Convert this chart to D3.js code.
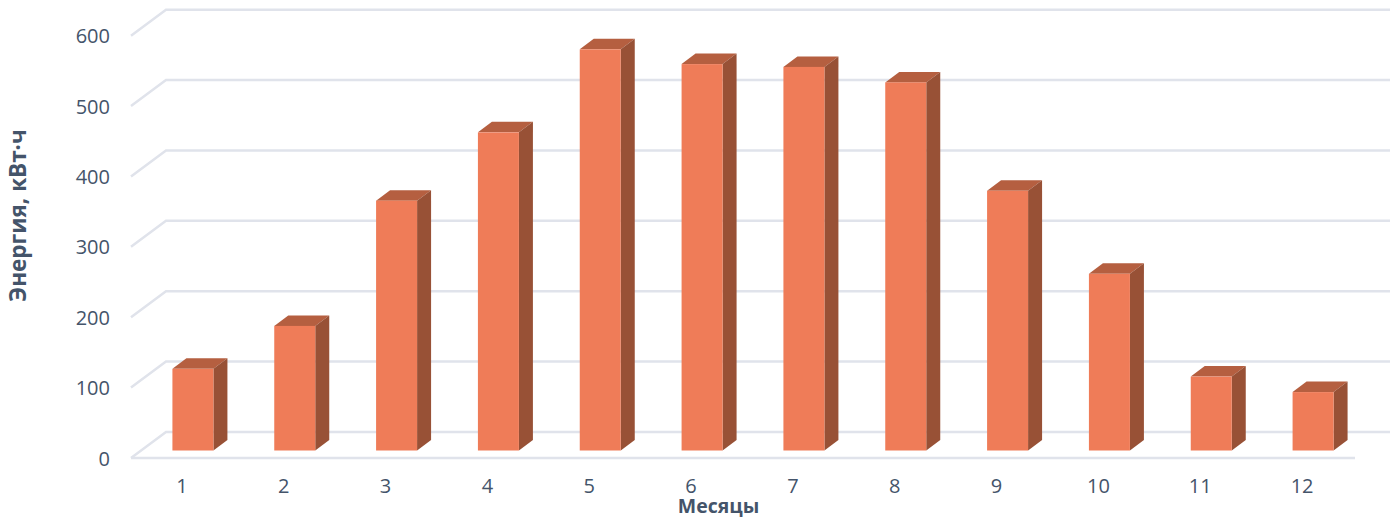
<html>
<head>
	<meta charset="utf-8">
	<script src="https://cdn.jsdelivr.net/npm/d3@7/dist/d3.min.js"></script>
	<style>
		html, body { margin: 0; padding: 0; background: #fff; }
		svg { display: block; }
		text { font-family: "Open Sans", sans-serif; fill: #44546a; }
	</style>
</head>
<body>
<div id="chart"></div>
<script>
	var months = ["1", "2", "3", "4", "5", "6", "7", "8", "9", "10", "11", "12"];
	var energy = [116, 177, 355, 452, 570, 549, 545, 523, 369, 251, 105, 83];
	var yTicks = [0, 100, 200, 300, 400, 500, 600];

	var width = 1392, height = 518;
	var depthX = 35, depthY = 26;      // floor depth of the 3d box
	var barDepthX = 14, barDepthY = 10.5;

	var svg = d3.select("#chart").append("svg")
		.attr("width", width)
		.attr("height", height);

	var x = d3.scaleBand().domain(months).range([131, 1353]);
	var y = d3.scaleLinear().domain([0, 600]).range([458, 35.7]);
	var barWidth = 41;
	var barLeft = function(d) { return x(d) + x.bandwidth() / 2 - barWidth / 2 + 11; };
	var barBase = y(0) - 7.5;

	// walls and floor
	var grid = svg.append("g").attr("fill", "none").attr("stroke", "#e0e3eb").attr("stroke-width", 2.5);
	yTicks.forEach(function(t) {
		grid.append("polyline").attr("points", [
			[131, y(t)],
			[131 + depthX, y(t) - depthY],
			[1355 + depthX, y(t) - depthY]
		].join(" "));
	});
	grid.append("line")
		.attr("x1", 131).attr("x2", 1355)
		.attr("y1", y(0)).attr("y2", y(0));

	// bars
	var bars = svg.append("g").selectAll("g")
		.data(months)
		.enter().append("g");

	var barTop = function(i) { return barBase - (y(0) - y(energy[i])); };

	bars.append("polygon")
		.attr("fill", "#b55f40")
		.attr("points", function(d, i) {
			var l = barLeft(d), t = barTop(i);
			return [[l, t], [l + barDepthX, t - barDepthY], [l + barWidth + barDepthX, t - barDepthY], [l + barWidth, t]].join(" ");
		});
	bars.append("polygon")
		.attr("fill", "#985136")
		.attr("points", function(d, i) {
			var r = barLeft(d) + barWidth, t = barTop(i);
			return [[r, t], [r + barDepthX, t - barDepthY], [r + barDepthX, barBase - barDepthY], [r, barBase]].join(" ");
		});
	bars.append("rect")
		.attr("fill", "#ef7c58")
		.attr("x", barLeft)
		.attr("y", function(d, i) { return barTop(i); })
		.attr("width", barWidth)
		.attr("height", function(d, i) { return barBase - barTop(i); });

	// axes
	var xAxis = svg.append("g")
		.attr("transform", "translate(0,475)")
		.call(d3.axisBottom(x).tickSize(0).tickPadding(0));
	xAxis.select(".domain").remove();
	xAxis.selectAll("text").attr("font-size", 20).attr("dy", "0.9em");

	var yAxis = svg.append("g")
		.attr("transform", "translate(110,0)")
		.call(d3.axisLeft(y).tickValues(yTicks).tickSize(0).tickPadding(0));
	yAxis.select(".domain").remove();
	yAxis.selectAll("text").attr("font-size", 20).attr("dy", "0.35em");

	svg.append("text")
		.attr("x", 718.5).attr("y", 513)
		.attr("text-anchor", "middle")
		.attr("font-size", 19.5).attr("font-weight", "bold")
		.text("Месяцы");

	svg.append("text")
		.attr("transform", "translate(26,215.5) rotate(-90)")
		.attr("text-anchor", "middle")
		.attr("font-size", 22.5).attr("font-weight", "bold")
		.text("Энергия, кВт·ч");
</script>
</body>
</html>
